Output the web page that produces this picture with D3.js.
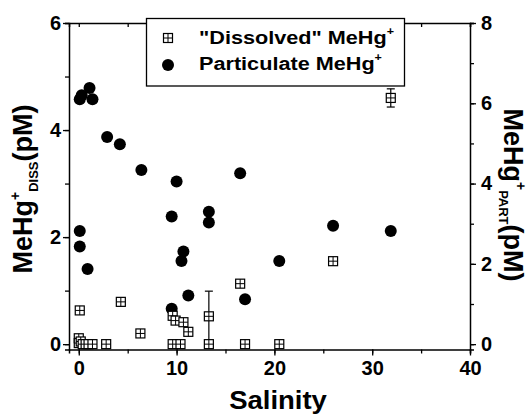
<!DOCTYPE html>
<html>
<head>
<meta charset="utf-8">
<script src="https://cdn.jsdelivr.net/npm/d3@7"></script>
<style>
  body { margin: 0; background: #fff; }
  svg { font-family: "Liberation Sans", Arial, sans-serif; font-weight: bold; }
</style>
</head>
<body>
<svg id="chart" width="530" height="416"></svg>
<script>
// "Dissolved" MeHg+ (left axis), salinity / pM
const dissSal = [0.1, 0, 0, 0.2, 0.4, 0.7, 1.0, 1.4, 2.8, 4.3, 6.3, 9.6, 9.9, 10.7, 11.2, 9.6, 10.4, 13.3, 13.3, 16.5, 17.0, 20.5, 26.0, 31.9];
const dissVal = [0.63, 0.11, 0.02, 0.05, 0, 0, 0, 0, 0, 0.79, 0.2, 0.53, 0.44, 0.41, 0.23, 0, 0, 0.52, 0, 1.13, 0, 0, 1.55, 4.6];
const dissErr = [0, 0, 0, 0, 0, 0, 0, 0, 0, 0, 0, 0, 0, 0, 0, 0, 0, 0.47, 0, 0, 0, 0, 0, 0.17];
// Particulate MeHg+ (right axis)
const partSal = [0.1, 0.3, 1.1, 1.4, 2.9, 4.2, 6.4, 10.0, 16.5, 0.1, 0.1, 0.9, 9.5, 13.3, 13.3, 10.7, 10.5, 11.2, 9.5, 17.0, 20.5, 26.0, 31.9];
const partVal = [6.1, 6.2, 6.38, 6.1, 5.16, 4.98, 4.34, 4.05, 4.26, 2.82, 2.43, 1.87, 3.18, 3.3, 3.03, 2.31, 2.07, 1.21, 0.88, 1.12, 2.07, 2.95, 2.82];

const xTicks = [0, 10, 20, 30, 40];
const yLeftTicks = [0, 2, 4, 6];
const yRightTicks = [0, 2, 4, 6, 8];

const svg = d3.select('#chart');
const mLeft = 69, mRight = 470, mTop = 23, mBottom = 349.5;

const x = d3.scaleLinear().domain([-1, 40]).range([mLeft, mRight]);
const yL = d3.scaleLinear().domain([-0.1, 6]).range([mBottom, mTop]);
const yR = d3.scaleLinear().domain([-0.1333, 8]).range([mBottom, mTop]);

const axisStyle = g => {
  g.selectAll('path.domain').attr('stroke', '#000').attr('stroke-width', 1.5);
  g.selectAll('line').attr('stroke', '#000').attr('stroke-width', 1.3);
  g.selectAll('text').attr('font-size', 20).attr('font-weight', 'bold').attr('fill', '#000')
    .attr('font-family', '"Liberation Sans", Arial, sans-serif');
};

// minor ticks
const minor = (scale, step) => d3.range(0, scale.domain()[1] + 0.001, step);

// bottom
svg.append('g').attr('transform', `translate(0,${mBottom})`)
  .call(d3.axisBottom(x).tickValues(minor(x, 5)).tickFormat('').tickSizeOuter(0).tickSize(4))
  .call(axisStyle);
svg.append('g').attr('transform', `translate(0,${mBottom})`)
  .call(d3.axisBottom(x).tickValues(xTicks).tickFormat(d3.format('d')).tickSizeOuter(0).tickSize(6).tickPadding(5))
  .call(axisStyle)
  .call(g => g.select('.domain').remove());
// top
svg.append('g').attr('transform', `translate(0,${mTop})`)
  .call(d3.axisBottom(x).tickValues(minor(x, 5)).tickFormat('').tickSizeOuter(0).tickSize(4))
  .call(axisStyle);
// left
svg.append('g').attr('transform', `translate(${mLeft},0)`)
  .call(d3.axisLeft(yL).tickValues(minor(yL, 1)).tickFormat('').tickSizeOuter(0).tickSize(4))
  .call(axisStyle);
svg.append('g').attr('transform', `translate(${mLeft},0)`)
  .call(d3.axisLeft(yL).tickValues(yLeftTicks).tickFormat(d3.format('d')).tickSizeOuter(0).tickSize(6).tickPadding(2))
  .call(axisStyle)
  .call(g => g.select('.domain').remove());
// right
svg.append('g').attr('transform', `translate(${mRight},0)`)
  .call(d3.axisRight(yR).tickValues(minor(yR, 1)).tickFormat('').tickSizeOuter(0).tickSize(4))
  .call(axisStyle);
svg.append('g').attr('transform', `translate(${mRight},0)`)
  .call(d3.axisRight(yR).tickValues(yRightTicks).tickFormat(d3.format('d')).tickSizeOuter(0).tickSize(6).tickPadding(5))
  .call(axisStyle)
  .call(g => g.select('.domain').remove());

// particulate circles
svg.append('g').selectAll('circle').data(partSal.map((s, i) => [s, partVal[i]]))
  .join('circle')
  .attr('cx', d => x(d[0])).attr('cy', d => yR(d[1])).attr('r', 6)
  .attr('fill', '#000');

// dissolved squares with error bars
const diss = dissSal.map((s, i) => ({s, v: dissVal[i], e: dissErr[i]}));
const eb = svg.append('g').attr('stroke', '#000').attr('stroke-width', 1.2);
diss.filter(d => d.e > 0).forEach(d => {
  const cx = x(d.s);
  eb.append('line').attr('x1', cx).attr('x2', cx).attr('y1', yL(d.v - d.e)).attr('y2', yL(d.v + d.e));
  [d.v - d.e, d.v + d.e].forEach(v => eb.append('line')
    .attr('x1', cx - 4).attr('x2', cx + 4).attr('y1', yL(v)).attr('y2', yL(v)));
});

const sq = 4.5;
const drawSquare = (g, cx, cy) => {
  g.append('rect').attr('x', cx - sq).attr('y', cy - sq).attr('width', 2 * sq).attr('height', 2 * sq)
    .attr('fill', '#fff').attr('stroke', '#000').attr('stroke-width', 1.2);
  g.append('line').attr('x1', cx - sq).attr('x2', cx + sq).attr('y1', cy).attr('y2', cy)
    .attr('stroke', '#000').attr('stroke-width', 1);
  g.append('line').attr('x1', cx).attr('x2', cx).attr('y1', cy - sq).attr('y2', cy + sq)
    .attr('stroke', '#000').attr('stroke-width', 1);
};
const sg = svg.append('g');
diss.forEach(d => drawSquare(sg, x(d.s), yL(d.v)));

// legend
const lg = svg.append('g');
lg.append('rect').attr('x', 146.5).attr('y', 18.5).attr('width', 258).attr('height', 67.5)
  .attr('fill', '#fff').attr('stroke', '#000').attr('stroke-width', 1.3);
drawSquare(lg, 168, 38);
lg.append('circle').attr('cx', 168).attr('cy', 65).attr('r', 6).attr('fill', '#000');
const legText = (y, label) => {
  const t = lg.append('text').attr('transform', `translate(199,${y}) scale(1.14,1)`).attr('font-size', 19);
  t.append('tspan').text(label);
  t.append('tspan').attr('dy', -9).attr('font-size', 11).text('+');
};
legText(43.5, '"Dissolved" MeHg');
legText(70, 'Particulate MeHg');

// axis titles
svg.append('text').attr('transform', 'translate(278,409) scale(1.1,1)').attr('text-anchor', 'middle')
  .attr('font-size', 25).text('Salinity');

const yTitle = (tx, ty, rot, sub, subShift) => {
  const t = svg.append('text').attr('transform', `translate(${tx},${ty}) rotate(${rot})`)
    .attr('text-anchor', 'middle').attr('font-size', 27);
  t.append('tspan').text('MeHg');
  t.append('tspan').attr('dy', -12).attr('font-size', 14).text('+');
  t.append('tspan').attr('dy', 12 + subShift).attr('font-size', 13).text(sub);
  t.append('tspan').attr('dy', -subShift).text('(pM)');
};
yTitle(32, 189, -90, 'DISS', 6);
yTitle(504, 195, 90, 'PART', 5);
</script>
</body>
</html>
